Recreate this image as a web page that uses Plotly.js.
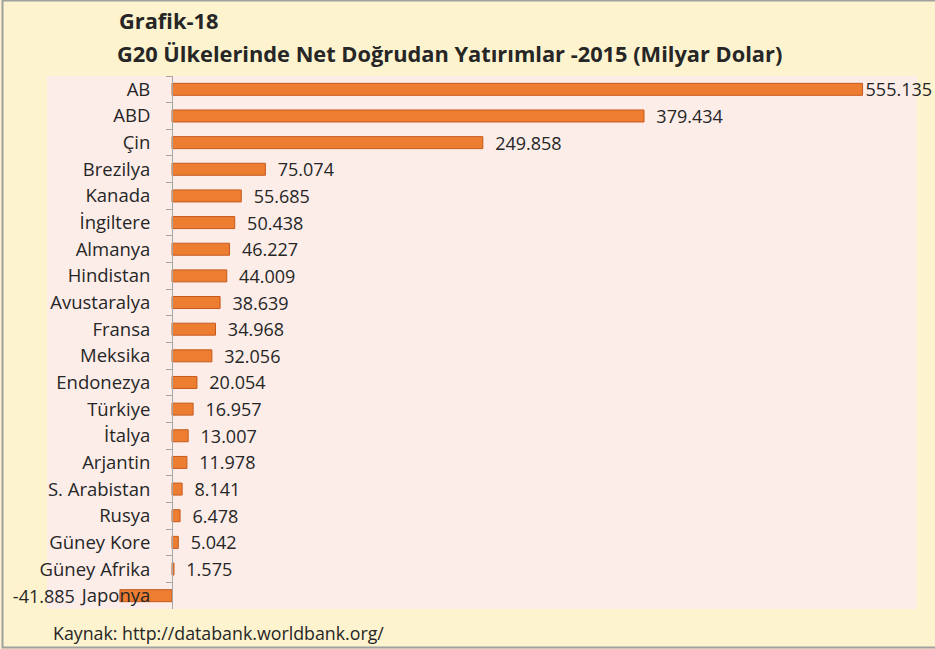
<!DOCTYPE html>
<html>
<head>
<meta charset="utf-8">
<script src="https://cdn.plot.ly/plotly-3.0.1.min.js"></script>
<style>
html,body{margin:0;padding:0;background:#ffffff;}
#chart{width:935px;height:649px;}
</style>
</head>
<body>
<div id="chart"></div>
<script>
const countries = ["AB","ABD","Çin","Brezilya","Kanada","İngiltere","Almanya","Hindistan","Avustaralya","Fransa","Meksika","Endonezya","Türkiye","İtalya","Arjantin","S. Arabistan","Rusya","Güney Kore","Güney Afrika","Japonya"];
const values = [555.135,379.434,249.858,75.074,55.685,50.438,46.227,44.009,38.639,34.968,32.056,20.054,16.957,13.007,11.978,8.141,6.478,5.042,1.575,-41.885];
const titleLine1 = "Grafik-18";
const titleLine2 = "G20 Ülkelerinde Net Doğrudan Yatırımlar -2015 (Milyar Dolar)";
const sourceText = "Kaynak: http://databank.worldbank.org/";

const maxVal = Math.max(...values);
const labels = values.map(v => {
  const s = v.toFixed(3);
  if (v === maxVal) return s;
  if (v < 0) return s + "\u00a0".repeat(9);
  return "\u00a0\u00a0" + s;
});

const W = 935, H = 649;
const mL = 47, mR = 18, mT = 76, mB = 40;
const xMin = -100.5, xMax = 598.9;
const axisPos = (0 - xMin) / (xMax - xMin);

const font = "'Open Sans', 'DejaVu Sans', sans-serif";

const trace = {
  type: "bar",
  orientation: "h",
  y: countries,
  x: values,
  text: labels,
  textposition: "outside",
  constraintext: "none",
  cliponaxis: false,
  textfont: {family: font, size: 18, color: "#262626"},
  marker: {color: "#ED7D31", line: {color: "#C65A1E", width: 1}},
  hoverinfo: "x+y"
};

const layout = {
  width: W, height: H,
  margin: {l: mL, r: mR, t: mT, b: mB, pad: 0},
  paper_bgcolor: "#FDF3CE",
  plot_bgcolor: "#FCEDE9",
  showlegend: false,
  bargap: 0.55,
  font: {family: font, color: "#262626"},
  title: {
    text: "<b>" + titleLine2 + "</b>",
    font: {family: font, size: 21.8, color: "#262626"},
    x: 117 / W, xanchor: "left", xref: "container",
    y: 1 - 54 / H, yanchor: "middle", yref: "container"
  },
  xaxis: {
    range: [xMin, xMax],
    visible: false,
    showgrid: false, zeroline: false, fixedrange: true
  },
  yaxis: {
    type: "category",
    categoryorder: "array",
    categoryarray: countries,
    autorange: "reversed",
    anchor: "free",
    position: axisPos,
    showline: true, linecolor: "#A6A6A6", linewidth: 1,
    ticks: "outside", tickson: "boundaries", ticklen: 6, tickcolor: "#A6A6A6", tickwidth: 1,
    ticklabelstandoff: 18,
    tickfont: {family: font, size: 18.5, color: "#262626"},
    showgrid: false, zeroline: false, fixedrange: true
  },
  annotations: [
    {
      text: "<b>" + titleLine1 + "</b>",
      xref: "paper", yref: "paper",
      x: (117 - mL) / (W - mL - mR), y: 1 + (mT - 21) / (H - mT - mB),
      xanchor: "left", yanchor: "middle", showarrow: false,
      font: {family: font, size: 21.8, color: "#262626"}
    },
    {
      text: sourceText,
      xref: "paper", yref: "paper",
      x: (51 - mL) / (W - mL - mR), y: -(633 - (H - mB)) / (H - mT - mB),
      xanchor: "left", yanchor: "middle", showarrow: false,
      font: {family: font, size: 17.8, color: "#262626"}
    }
  ],
  shapes: [
    {
      type: "rect", xref: "paper", yref: "paper",
      x0: -(mL - 2.5) / (W - mL - mR), x1: 1 + (mR + 2) / (W - mL - mR),
      y0: -(mB - 1.5) / (H - mT - mB), y1: 1 + (mT - 0.5) / (H - mT - mB),
      line: {color: "#A0A0A0", width: 2}, fillcolor: "rgba(0,0,0,0)", layer: "above"
    }
  ]
};

Plotly.newPlot("chart", [trace], layout, {displayModeBar: false, staticPlot: true});
</script>
</body>
</html>
